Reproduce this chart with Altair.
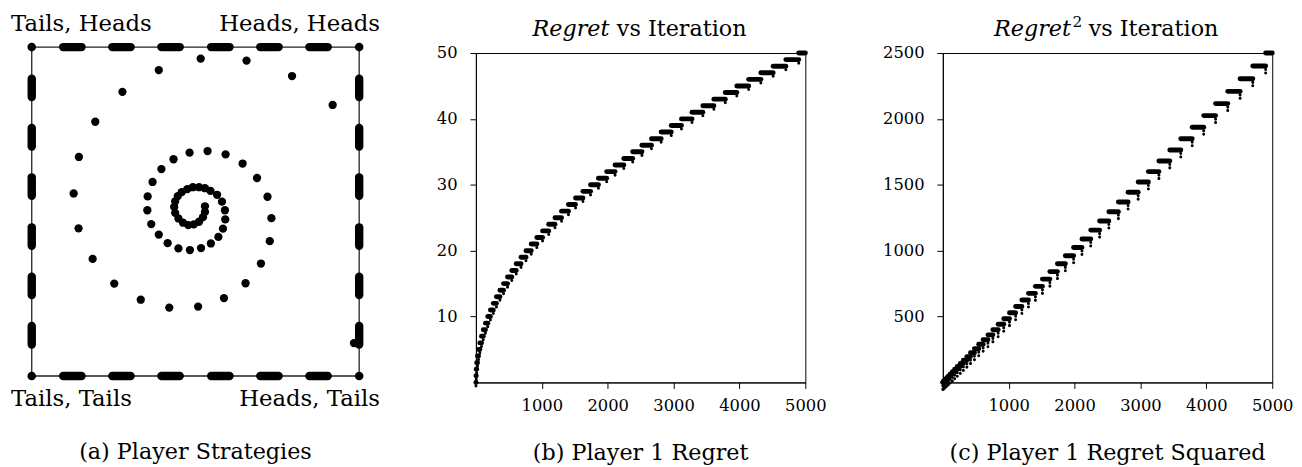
import altair as alt
import pandas as pd

FONT = "DejaVu Serif"

# ---------------- (a) Player Strategies ----------------
# probability of Heads for player 1 (x) and player 2 (y)
spiral_x = [0.529, 0.529, 0.523, 0.511, 0.495, 0.478, 0.462, 0.448, 0.438, 0.435,
            0.438, 0.446, 0.458, 0.475, 0.492, 0.511, 0.529, 0.546,
            0.566, 0.581, 0.590, 0.591, 0.584, 0.570, 0.547, 0.517, 0.483, 0.448,
            0.415, 0.388, 0.365, 0.353, 0.354, 0.369, 0.396, 0.433, 0.482, 0.537,
            0.592, 0.644, 0.688, 0.720, 0.732, 0.727, 0.700, 0.653, 0.587, 0.508,
            0.420, 0.333, 0.252, 0.186, 0.143, 0.128, 0.144, 0.194, 0.277, 0.388,
            0.516, 0.656, 0.795, 0.919, 0.984]
spiral_y = [0.516, 0.499, 0.483, 0.469, 0.461, 0.459, 0.466, 0.479, 0.496, 0.514,
            0.531, 0.547, 0.559, 0.568, 0.574, 0.574, 0.571, 0.563,
            0.551, 0.530, 0.504, 0.476, 0.448, 0.423, 0.403, 0.389, 0.383, 0.388,
            0.404, 0.430, 0.462, 0.504, 0.546, 0.590, 0.629, 0.659, 0.679, 0.684,
            0.674, 0.646, 0.602, 0.545, 0.480, 0.410, 0.342, 0.282, 0.237, 0.211,
            0.208, 0.232, 0.281, 0.356, 0.449, 0.555, 0.666, 0.773, 0.864, 0.930,
            0.965, 0.959, 0.912, 0.824, 0.100]

corner_x = [0.0, 0.0, 1.0, 1.0]
corner_y = [0.0, 1.0, 0.0, 1.0]

# dense runs of points lying on the edges of the strategy square
cluster_lo = [0.096, 0.246, 0.396, 0.548, 0.698, 0.848]
cluster_hi = [0.152, 0.302, 0.452, 0.604, 0.754, 0.904]

label_text = ["Tails, Heads", "Heads, Heads", "Tails, Tails", "Heads, Tails"]
label_x = [0.0, 1.0, 0.0, 1.0]
label_y = [1.0, 1.0, 0.0, 0.0]

# ---------------- (b)/(c) Regret ----------------
regret_level = [0, 1, 2, 3, 4, 5, 6, 7, 8, 9, 10, 11, 12, 13, 14, 15, 16, 17, 18, 19,
                20, 21, 22, 23, 24, 25, 26, 27, 28, 29, 30, 31, 32, 33, 34, 35, 36, 37,
                38, 39, 40, 41, 42, 43, 44, 45, 46, 47, 48, 49, 50]
step_start = [0, 1, 5, 12, 25, 40, 60, 85, 112, 145, 180, 220, 265, 312, 365, 420,
              480, 545, 612, 685, 760, 840, 925, 1012, 1105, 1200, 1300, 1405, 1512,
              1625, 1740, 1860, 1985, 2112, 2245, 2380, 2520, 2665, 2812, 2965, 3120,
              3280, 3445, 3612, 3785, 3960, 4140, 4325, 4512, 4705, 4900]
last_iteration = 5000

x_ticks = [1000, 2000, 3000, 4000, 5000]
y_ticks_b = [10, 20, 30, 40, 50]
y_ticks_c = [500, 1000, 1500, 2000, 2500]

# ---------------- data tables ----------------
spiral_df = pd.DataFrame({"x": spiral_x, "y": spiral_y})
corner_df = pd.DataFrame({"x": corner_x, "y": corner_y})
box_df = pd.DataFrame({"x": [0.0, 0.0, 0.0, 1.0], "x2": [1.0, 1.0, 0.0, 1.0],
                       "y": [0.0, 1.0, 0.0, 0.0], "y2": [0.0, 1.0, 1.0, 1.0]})
rows = []
for lo, hi in zip(cluster_lo, cluster_hi):
    rows.append({"x": lo, "x2": hi, "y": 1.0, "y2": 1.0})
    rows.append({"x": lo, "x2": hi, "y": 0.0, "y2": 0.0})
    rows.append({"x": 0.0, "x2": 0.0, "y": lo, "y2": hi})
    rows.append({"x": 1.0, "x2": 1.0, "y": lo, "y2": hi})
cluster_df = pd.DataFrame(rows)
label_df = pd.DataFrame({"x": label_x, "y": label_y, "label": label_text})

step_end = step_start[1:] + [last_iteration]
steps_df = pd.DataFrame({
    "start": step_start,
    "end": step_end,
    "regret": regret_level,
    "regret_sq": [r * r for r in regret_level],
})
dips_df = steps_df.iloc[:-1]

# ---------------- panel (a) ----------------
xs_a = alt.Scale(domain=[0, 1], nice=False, zero=False)
ys_a = alt.Scale(domain=[-0.0195, 0.982], nice=False, zero=False)
X_a = alt.X("x:Q", scale=xs_a, axis=None)
Y_a = alt.Y("y:Q", scale=ys_a, axis=None)

box = alt.Chart(box_df).mark_rule(color="#222222", strokeWidth=1.3).encode(
    x=X_a, x2="x2:Q", y=Y_a, y2="y2:Q")
clusters = alt.Chart(cluster_df).mark_rule(color="black", strokeWidth=8.5, strokeCap="round").encode(
    x=X_a, x2="x2:Q", y=Y_a, y2="y2:Q")
corners = alt.Chart(corner_df).mark_circle(color="black", size=75, opacity=1).encode(x=X_a, y=Y_a)
spiral = alt.Chart(spiral_df).mark_circle(color="black", size=70, opacity=1).encode(x=X_a, y=Y_a)


def corner_label(cond, align, dx, dy):
    return alt.Chart(label_df).transform_filter(cond).mark_text(
        font=FONT, fontSize=23, color="black", align=align, baseline="alphabetic",
        dx=dx, dy=dy).encode(x=X_a, y=Y_a, text="label:N")


labels = [
    corner_label("datum.x == 0 && datum.y == 1", "left", -21, -16),
    corner_label("datum.x == 1 && datum.y == 1", "right", 21, -16),
    corner_label("datum.x == 0 && datum.y == 0", "left", -21, 30),
    corner_label("datum.x == 1 && datum.y == 0", "right", 21, 30),
]

caption_style = dict(orient="bottom", font=FONT, fontSize=22.5, fontWeight="normal",
                     color="black", anchor="middle")

panel_a = alt.layer(box, clusters, corners, spiral, *labels).properties(
    width=331, height=333,
    title=alt.TitleParams("(a) Player Strategies", offset=31, **caption_style),
    view=alt.ViewBackground(stroke="transparent"),
)

# ---------------- panels (b) and (c) ----------------
xs = alt.Scale(domain=[0, last_iteration], nice=False, zero=False)
x_axis = alt.Axis(values=x_ticks, title=None, labelPadding=9, labelFlush=False, format="d")


def regret_panel(field, domain_max, yticks, caption, title_parts, dip_px):
    ys = alt.Scale(domain=[0, domain_max], nice=False, zero=False)
    y_axis = alt.Axis(values=yticks, title=None, labelPadding=13, format="d")
    bars = alt.Chart(steps_df).mark_rule(color="black", strokeWidth=5, strokeCap="round").encode(
        x=alt.X("start:Q", scale=xs, axis=x_axis),
        x2="end:Q",
        y=alt.Y(f"{field}:Q", scale=ys, axis=y_axis),
    )
    dips = alt.Chart(dips_df).mark_rule(color="black", strokeWidth=3, strokeCap="round",
                                        strokeDash=[0.1, 3.4], y2Offset=dip_px).encode(
        x="end:Q", y=f"{field}:Q", y2=f"{field}:Q")
    texts = []
    for text, style, size, align, px, py in title_parts:
        texts.append(alt.Chart(pd.DataFrame({"t": [text]})).mark_text(
            font=FONT, fontSize=size, fontStyle=style, color="black",
            align=align, baseline="alphabetic").encode(
            x=alt.value(px), y=alt.value(py), text="t:N"))
    return alt.layer(bars, dips, *texts).properties(
        width=333, height=333,
        title=alt.TitleParams(caption, offset=29, **caption_style),
    )


panel_b = regret_panel(
    "regret", 50, y_ticks_b, "(b) Player 1 Regret",
    [("Regret", "italic", 22.5, "right", 135, -17),
     ("vs Iteration", "normal", 22.5, "left", 142.5, -17)], 6)
panel_c = regret_panel(
    "regret_sq", 2500, y_ticks_c, "(c) Player 1 Regret Squared",
    [("Regret", "italic", 22.5, "right", 129.5, -17),
     ("2", "normal", 15.5, "left", 131, -26),
     ("vs Iteration", "normal", 22.5, "left", 147.5, -17)], 9)

chart = alt.hconcat(panel_a, panel_b, panel_c, spacing=55).properties(
    padding={"left": 2, "top": 2, "right": 0, "bottom": 0}
).configure_view(stroke="black", strokeWidth=1).configure_axis(
    domainColor="black", domainWidth=1, tickColor="black", tickWidth=1, tickSize=6,
    labelColor="black", labelFont=FONT, labelFontSize=16.5, grid=False,
)

chart.save("out.html", embed_options={"renderer": "svg", "actions": False})
